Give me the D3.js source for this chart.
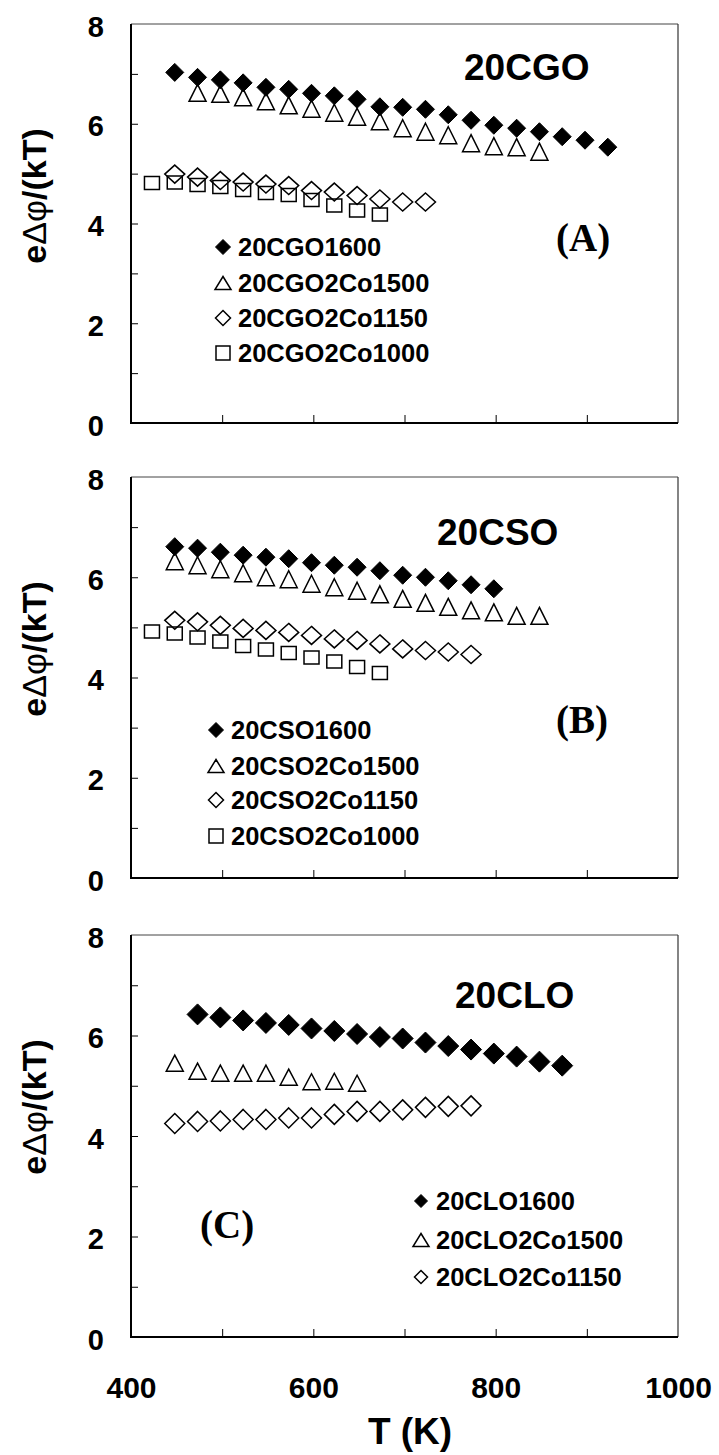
<!DOCTYPE html>
<html><head><meta charset="utf-8">
<script src="https://cdn.jsdelivr.net/npm/d3@7"></script>
<style>body{margin:0;background:#fff}svg{display:block}</style>
</head><body><svg id="c" width="719" height="1455"></svg>
<script>
// ---------------- data ----------------
const xTickMarks = [500, 600, 700, 800, 900];
const xTickLabels = [400, 600, 800, 1000];
const yTickMarks = [1, 2, 3, 4, 5, 6, 7];
const yTickLabels = [0, 2, 4, 6, 8];
const panelTitles = ["20CGO", "20CSO", "20CLO"];
const panelLetters = ["(A)", "(B)", "(C)"];
const xAxisTitle = "T (K)";

// Panel A (20CGO)
const cgo1600_T = [448,473,498,523,548,573,598,623,648,673,698,723,748,773,798,823,848,873,898,923];
const cgo1600_V = [7.03,6.93,6.88,6.82,6.73,6.69,6.61,6.56,6.49,6.34,6.33,6.29,6.18,6.07,5.97,5.91,5.84,5.74,5.67,5.53];
const cgo2co1500_T = [473,498,523,548,573,598,623,648,673,698,723,748,773,798,823,848];
const cgo2co1500_V = [6.62,6.60,6.53,6.45,6.37,6.30,6.22,6.14,6.05,5.91,5.84,5.77,5.61,5.55,5.53,5.44];
const cgo2co1150_T = [448,473,498,523,548,573,598,623,648,673,698,723];
const cgo2co1150_V = [4.99,4.93,4.86,4.83,4.79,4.76,4.66,4.63,4.56,4.49,4.43,4.43];
const cgo2co1000_T = [423,448,473,498,523,548,573,598,623,648,673];
const cgo2co1000_V = [4.81,4.82,4.77,4.73,4.67,4.61,4.57,4.47,4.36,4.26,4.18];

// Panel B (20CSO)
const cso1600_T = [448,473,498,523,548,573,598,623,648,673,698,723,748,773,798];
const cso1600_V = [6.61,6.58,6.50,6.44,6.40,6.37,6.29,6.24,6.20,6.13,6.04,6.00,5.93,5.85,5.77];
const cso2co1500_T = [448,473,498,523,548,573,598,623,648,673,698,723,748,773,798,823,848];
const cso2co1500_V = [6.32,6.24,6.16,6.08,6.00,5.96,5.87,5.80,5.73,5.66,5.57,5.49,5.41,5.34,5.30,5.23,5.23];
const cso2co1150_T = [448,473,498,523,548,573,598,623,648,673,698,723,748,773];
const cso2co1150_V = [5.14,5.11,5.04,4.98,4.94,4.90,4.84,4.77,4.74,4.67,4.57,4.54,4.51,4.46];
const cso2co1000_T = [423,448,473,498,523,548,573,598,623,648,673];
const cso2co1000_V = [4.92,4.88,4.80,4.72,4.63,4.56,4.49,4.40,4.32,4.21,4.09];

// Panel C (20CLO)
const clo1600_T = [473,498,523,548,573,598,623,648,673,698,723,748,773,798,823,848,873];
const clo1600_V = [6.42,6.36,6.30,6.25,6.21,6.14,6.09,6.03,5.97,5.94,5.86,5.79,5.72,5.64,5.58,5.48,5.40];
const clo2co1500_T = [448,473,498,523,548,573,598,623,648];
const clo2co1500_V = [5.45,5.29,5.25,5.25,5.25,5.17,5.08,5.09,5.05];
const clo2co1150_T = [448,473,498,523,548,573,598,623,648,673,698,723,748,773];
const clo2co1150_V = [4.25,4.29,4.30,4.33,4.33,4.36,4.36,4.43,4.49,4.49,4.52,4.57,4.59,4.60];

// ---------------- layout ----------------
const plotLeft = 131, plotRight = 678;
const sizeAB = { diamondFilled: [9, 9], triangle: [8.5, 17], diamond: [10, 9], square: [7.5, 6.5] };
const sizeC = { diamondFilled: [10.5, 10.5], triangle: [8.5, 16], diamond: [10, 10], square: [7.5, 6.5] };
const legSizeAB = { diamondFilled: [7.5, 7.5], triangle: [8, 13], diamond: [7.5, 7.5], square: [7, 7] };
const legSizeC = { diamondFilled: [6.5, 6.5], triangle: [8, 13], diamond: [6.5, 6.5], square: [7, 7] };

const panels = [
  { top: 24, bottom: 423, title: panelTitles[0], titleX: 464, titleY: 80,
    letter: panelLetters[0], letterX: 556, letterY: 251,
    legX: 223, legY: [247, 283, 318, 353], sizes: sizeAB, legSizes: legSizeAB,
    series: [
      { name: "20CGO1600", T: cgo1600_T, V: cgo1600_V, shape: "diamondFilled" },
      { name: "20CGO2Co1500", T: cgo2co1500_T, V: cgo2co1500_V, shape: "triangle" },
      { name: "20CGO2Co1150", T: cgo2co1150_T, V: cgo2co1150_V, shape: "diamond" },
      { name: "20CGO2Co1000", T: cgo2co1000_T, V: cgo2co1000_V, shape: "square" }
    ] },
  { top: 477, bottom: 878, title: panelTitles[1], titleX: 437, titleY: 545,
    letter: panelLetters[1], letterX: 556, letterY: 733,
    legX: 216, legY: [730, 766, 800, 836], sizes: sizeAB, legSizes: legSizeAB,
    series: [
      { name: "20CSO1600", T: cso1600_T, V: cso1600_V, shape: "diamondFilled" },
      { name: "20CSO2Co1500", T: cso2co1500_T, V: cso2co1500_V, shape: "triangle" },
      { name: "20CSO2Co1150", T: cso2co1150_T, V: cso2co1150_V, shape: "diamond" },
      { name: "20CSO2Co1000", T: cso2co1000_T, V: cso2co1000_V, shape: "square" }
    ] },
  { top: 935, bottom: 1337, title: panelTitles[2], titleX: 455, titleY: 1008,
    letter: panelLetters[2], letterX: 200, letterY: 1238,
    legX: 421, legY: [1201, 1240, 1277], sizes: sizeC, legSizes: legSizeC,
    series: [
      { name: "20CLO1600", T: clo1600_T, V: clo1600_V, shape: "diamondFilled" },
      { name: "20CLO2Co1500", T: clo2co1500_T, V: clo2co1500_V, shape: "triangle" },
      { name: "20CLO2Co1150", T: clo2co1150_T, V: clo2co1150_V, shape: "diamond" }
    ] }
];

const svg = d3.select("#c");
const x = d3.scaleLinear().domain([400, 1000]).range([plotLeft, plotRight]);

function markerPath(shape, cx, cy, s) {
  const [a, b] = s;
  if (shape === "diamondFilled" || shape === "diamond")
    return `M${cx},${cy-b}L${cx+a},${cy}L${cx},${cy+b}L${cx-a},${cy}Z`;
  if (shape === "triangle")
    return `M${cx},${cy-b/2}L${cx+a},${cy+b/2}L${cx-a},${cy+b/2}Z`;
  return `M${cx-a},${cy-b}L${cx+a},${cy-b}L${cx+a},${cy+b}L${cx-a},${cy+b}Z`;
}
function styleMarker(sel, shape) {
  if (shape === "diamondFilled") sel.attr("fill", "#000").attr("stroke", "#000").attr("stroke-width", 1);
  else sel.attr("fill", "none").attr("stroke", "#000").attr("stroke-width", 1.5);
}

const FONT = "'Liberation Sans', Arial, sans-serif";
const SERIF = "'Liberation Serif', 'Times New Roman', serif";

panels.forEach((p) => {
  const y = d3.scaleLinear().domain([0, 8]).range([p.bottom, p.top]);
  const g = svg.append("g");

  // frame: top & right thin
  g.append("line").attr("x1", plotLeft).attr("x2", plotRight).attr("y1", p.top).attr("y2", p.top)
    .attr("stroke", "#444").attr("stroke-width", 1);
  g.append("line").attr("x1", plotRight).attr("x2", plotRight).attr("y1", p.top).attr("y2", p.bottom)
    .attr("stroke", "#333").attr("stroke-width", 1.2);

  // y axis (ticks inward)
  const yAxis = d3.axisRight(y).tickValues(yTickMarks).tickSize(7).tickFormat("");
  const ya = g.append("g").attr("transform", `translate(${plotLeft},0)`).call(yAxis);
  ya.select(".domain").remove();
  ya.selectAll(".tick line").attr("stroke", "#000").attr("stroke-width", 1);
  g.append("line").attr("x1", plotLeft).attr("x2", plotLeft).attr("y1", p.top).attr("y2", p.bottom)
    .attr("stroke", "#000").attr("stroke-width", 2);

  // y tick labels
  const yl = d3.axisLeft(y).tickValues(yTickLabels).tickSize(0).tickPadding(0).tickFormat(d3.format("d"));
  const yla = g.append("g").attr("transform", `translate(104,0)`).call(yl);
  yla.select(".domain").remove();
  yla.selectAll("text").attr("font-family", FONT).attr("font-weight", "bold")
    .attr("font-size", 29).attr("fill", "#000").attr("dy", "0.42em");

  // x axis (ticks inward/up)
  const xAxis = d3.axisTop(x).tickValues(xTickMarks).tickSize(8).tickFormat("");
  const xa = g.append("g").attr("transform", `translate(0,${p.bottom})`).call(xAxis);
  xa.select(".domain").remove();
  xa.selectAll(".tick line").attr("stroke", "#000").attr("stroke-width", 1);
  g.append("line").attr("x1", plotLeft - 1).attr("x2", plotRight).attr("y1", p.bottom).attr("y2", p.bottom)
    .attr("stroke", "#000").attr("stroke-width", 2);

  // y axis title
  const cy = p.top + 172;
  const t = g.append("text").attr("transform", `translate(46,${cy}) rotate(-90)`)
    .attr("text-anchor", "middle").attr("font-family", FONT).attr("font-size", 34).attr("fill", "#000");
  t.append("tspan").attr("font-weight", "bold").text("e");
  t.append("tspan").attr("font-weight", "normal").text("\u0394\u03C6");
  t.append("tspan").attr("font-weight", "bold").text("/(kT)");

  // panel title and letter
  g.append("text").attr("x", p.titleX).attr("y", p.titleY).attr("font-family", FONT)
    .attr("font-weight", "bold").attr("font-size", 37).attr("fill", "#000").text(p.title);
  g.append("text").attr("x", p.letterX).attr("y", p.letterY).attr("font-family", SERIF)
    .attr("font-weight", "bold").attr("font-size", 39).attr("fill", "#000").text(p.letter);

  // series
  p.series.forEach(s => {
    const pts = s.T.map((t, i) => [t, s.V[i]]);
    const sel = g.append("g").selectAll("path").data(pts).join("path")
      .attr("d", d => markerPath(s.shape, x(d[0]), y(d[1]), p.sizes[s.shape]));
    styleMarker(sel, s.shape);
  });

  // legend
  p.series.forEach((s, i) => {
    const ly = p.legY[i];
    const m = g.append("path").attr("d", markerPath(s.shape, p.legX, ly, p.legSizes[s.shape]));
    styleMarker(m, s.shape);
    g.append("text").attr("x", p.legX + 15).attr("y", ly + 9).attr("font-family", FONT)
      .attr("font-weight", "bold").attr("font-size", 25.5).attr("fill", "#000").text(s.name);
  });
});

// x tick labels (bottom)
const bottom = panels[2].bottom;
const xl = d3.axisBottom(x).tickValues(xTickLabels).tickSize(0).tickPadding(0).tickFormat(d3.format("d"));
const xla = svg.append("g").attr("transform", `translate(0,${bottom + 50})`).call(xl);
xla.select(".domain").remove();
xla.selectAll("text").attr("font-family", FONT).attr("font-weight", "bold")
  .attr("font-size", 30).attr("fill", "#000").attr("dy", "0.36em");

svg.append("text").attr("x", 410).attr("y", 1444).attr("text-anchor", "middle")
  .attr("font-family", FONT).attr("font-weight", "bold").attr("font-size", 37).attr("fill", "#000")
  .text(xAxisTitle);
</script></body></html>
